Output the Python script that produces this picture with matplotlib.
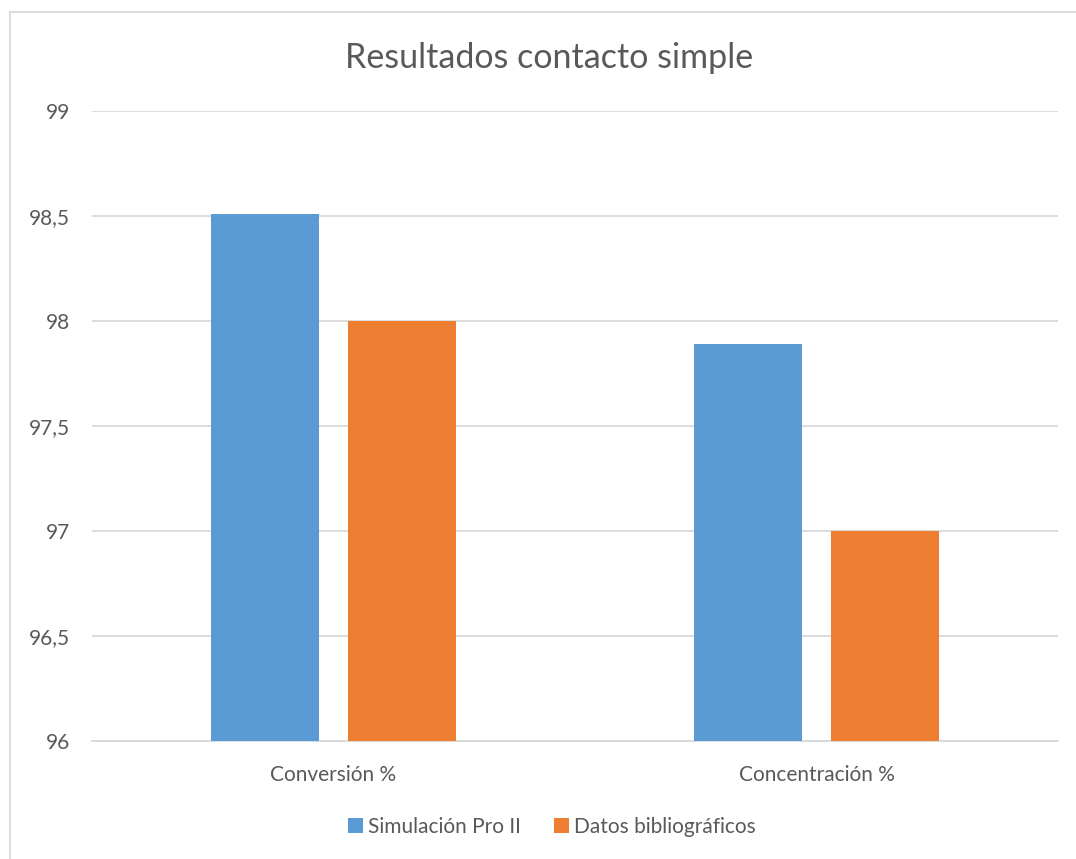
import numpy as np
import matplotlib.pyplot as plt
from matplotlib.patches import Rectangle
from matplotlib.ticker import FuncFormatter

plt.rcParams['font.family'] = ['Lato', 'DejaVu Sans']

categories = ['Conversión %', 'Concentración %']
series_names = ['Simulación Pro II', 'Datos bibliográficos']
simulacion = [98.51, 97.89]
bibliografia = [98.0, 97.0]
yticks = [96, 96.5, 97, 97.5, 98, 98.5, 99]

blue = '#5B9BD5'
orange = '#ED7D31'
text_col = '#595959'
grid_col = '#D9D9D9'

fig = plt.figure(figsize=(10.76, 8.59), dpi=100)
ax = fig.add_axes([92 / 1076, 1 - 741 / 859, (1058 - 92) / 1076, (741 - 111) / 859])

x = np.arange(len(categories))
w = 0.2236
off = 0.1418
ax.bar(x - off, simulacion, w, bottom=0, color=blue, label=series_names[0], zorder=3)
ax.bar(x + off, bibliografia, w, bottom=0, color=orange, label=series_names[1], zorder=3)

ax.set_xlim(-0.5, 1.5)
ax.set_ylim(96, 99)
ax.set_yticks(yticks)
ax.yaxis.set_major_formatter(FuncFormatter(lambda v, p: f'{v:g}'.replace('.', ',')))
ax.set_xticks(x, categories)
ax.grid(axis='y', color=grid_col, linewidth=1.3, zorder=0)
for s in ax.spines.values():
    s.set_visible(False)
ax.spines['bottom'].set_visible(True)
ax.spines['bottom'].set_color(grid_col)
ax.spines['bottom'].set_linewidth(1.3)
ax.tick_params(axis='both', length=0, colors=text_col, labelsize=15)
ax.tick_params(axis='y', pad=16)
ax.tick_params(axis='x', pad=17)

fig.text(549 / 1076, 1 - 58 / 859, 'Resultados contacto simple', ha='center', va='center',
         fontsize=24.5, color=text_col)

leg = fig.legend(loc='center', bbox_to_anchor=(552 / 1076, 1 - 827 / 859), ncol=2, frameon=False,
                 fontsize=15, labelcolor=text_col, handlelength=0.7, handleheight=0.7,
                 handletextpad=0.25, columnspacing=1.6)

# chart frame
fig.patches.append(Rectangle((10 / 1076, -0.1), 1.2, 1 - 12 / 859 + 0.1, transform=fig.transFigure,
                             fill=False, edgecolor=grid_col, linewidth=1.3))

fig.savefig('out.png', dpi=100)
